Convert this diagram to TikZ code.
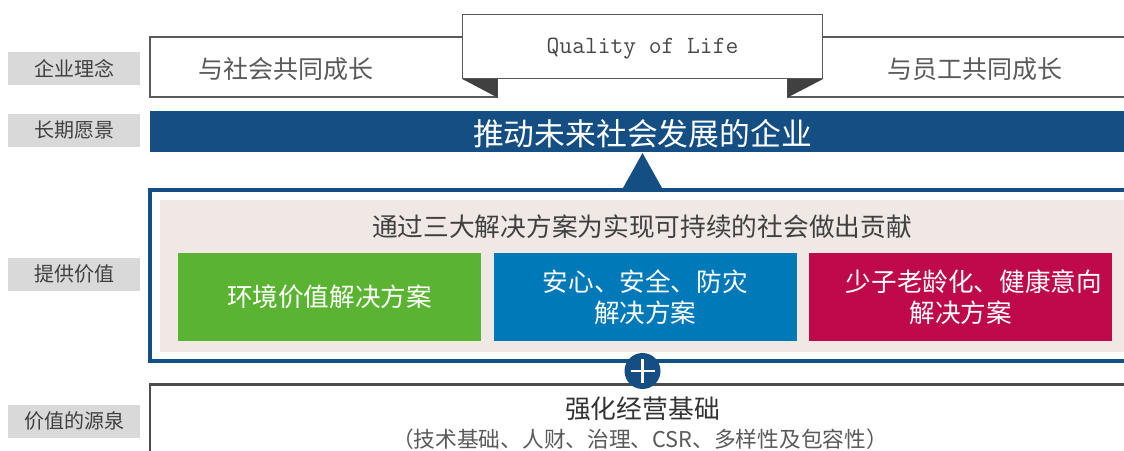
\documentclass[tikz,border=0pt]{standalone}
\usepackage{fontspec}
\newfontfamily\cjk{Noto Sans CJK SC}
\usetikzlibrary{positioning}

\definecolor{labelgray}{HTML}{D9D9D9}
\definecolor{labeltext}{HTML}{404040}
\definecolor{linegray}{HTML}{5A5A5A}
\definecolor{foldgray}{HTML}{404040}
\definecolor{brandblue}{HTML}{144E82}
\definecolor{panelbeige}{HTML}{EFE8E4}
\definecolor{envgreen}{HTML}{5AB432}
\definecolor{safeblue}{HTML}{0079B8}
\definecolor{agemagenta}{HTML}{BE0A4B}

\tikzset{
  labelbox/.style={fill=labelgray, text=labeltext, minimum width=132pt, minimum height=33pt,
    inner sep=0pt, font=\cjk\fontsize{20}{24}\selectfont},
  whitebox/.style={draw=linegray, line width=1.2pt, fill=white, inner sep=0pt},
  graytext/.style={text=linegray, inner sep=0pt, font=\cjk\fontsize{25}{30}\selectfont},
  solution/.style={minimum width=303pt, minimum height=88pt, inner sep=0pt, text=white,
    align=center, font=\cjk\fontsize{25.6}{31}\selectfont},
}

\begin{document}
\begin{tikzpicture}[x=1pt, y=-1pt]
  \clip (0,0) rectangle (1124,450);
  \fill[white] (0,0) rectangle (1124,450);

  % row labels
  \node [labelbox] (philosophy) at (74,68.5)  {企业理念};
  \node [labelbox] (vision)     at (74,130)   {长期愿景};
  \node [labelbox] (value)      at (74,274)   {提供价值};
  \node [labelbox] (source)     at (74,421)   {价值的源泉};

  % corporate philosophy ribbon
  \node [whitebox, minimum width=347pt, minimum height=60pt] (society)   at (323.5,67) {};
  \node [whitebox, minimum width=340pt, minimum height=60pt] (employees) at (958,67)  {};
  \node [whitebox, minimum width=360pt, minimum height=64pt] (qol) at (642.7,46.3) {};
  \node [text=linegray!80!black, inner sep=0pt, font=\ttfamily\fontsize{24.8}{28}\selectfont] (qoltxt) at (642.5,49)
        {Quality of Life};
  \fill [foldgray] (qol.south west) -- (qol.south west -| society.south east)
        -- (society.south east) -- cycle;
  \fill [foldgray] (qol.south east) -- (employees.south west |- qol.south east)
        -- (employees.south west) -- cycle;
  \node [graytext] (societytxt)   at (286,69) {与社会共同成长};
  \node [graytext] (employeestxt) at (975,69) {与员工共同成长};

  % long-term vision
  \node [fill=brandblue, minimum width=980pt, minimum height=41pt, inner sep=0pt] (visionbar) at (640,131.5) {};
  \node [text=white, inner sep=0pt, font=\cjk\fontsize{30.8}{36}\selectfont] (visiontxt) at (642.5,134) {推动未来社会发展的企业};
  \fill [brandblue] (623,188) -- (662,188) -- (642.5,153) -- cycle;

  % value provided
  \node [draw=brandblue, line width=3.5pt, minimum width=980pt, minimum height=171pt, inner sep=0pt] (frame) at (640,275.5) {};
  \node [fill=panelbeige, minimum width=970pt, minimum height=152pt, inner sep=0pt] (panel) at (645,276) {};
  \node [text=labeltext, inner sep=0pt, font=\cjk\fontsize{25.7}{30}\selectfont] (paneltitle) at (642,227)
        {通过三大解决方案为实现可持续的社会做出贡献};
  \node [solution, fill=envgreen] (env) at (329.5,297) {环境价值解决方案};
  \node [solution, fill=safeblue, right=12.3pt of env] (safety) {安心、安全、防灾\\解决方案};
  \node [solution, fill=agemagenta, right=12.3pt of safety] (aging) {\hspace*{26pt}少子老龄化、健康意向\\解决方案};

  % source of value
  \node [draw=linegray!85!black, line width=2.5pt, minimum width=980pt, minimum height=71pt, inner sep=0pt] (base) at (640,420) {};
  \node [circle, fill=brandblue, minimum size=36pt, inner sep=0pt] (plus) at (642.5,371) {};
  \draw [white, line width=2.5pt] ([xshift=-12pt]plus.center) -- ([xshift=12pt]plus.center)
        ([yshift=-12pt]plus.center) -- ([yshift=12pt]plus.center);
  \node [text=labeltext!80!black, inner sep=0pt, font=\cjk\fontsize{25.8}{30}\selectfont] (basetitle) at (642.5,409)
        {强化经营基础};
  \node [text=linegray, inner sep=0pt, font=\cjk\fontsize{21.7}{26}\selectfont] (basenote) at (640,439)
        {（技术基础、人财、治理、CSR、多样性及包容性）};
\end{tikzpicture}
\end{document}
